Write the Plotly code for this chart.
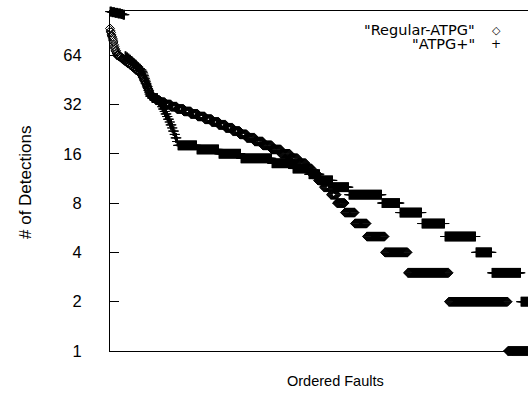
import numpy as np
import plotly.graph_objects as go

# Regular-ATPG: detection levels (descending) and number of faults at each level
reg_levels = [93, 90, 88, 85, 83, 81, 79, 77, 74, 72, 70, 68, 66,
              64, 63, 62, 61, 60, 59, 58, 57, 56, 55, 54, 53, 52, 51,
              50, 49, 48, 47, 46, 45, 44, 43, 42, 41, 40, 39, 38, 37,
              36, 35, 34, 33, 32, 31, 30, 29, 28, 27, 26, 25, 24, 23, 22, 21,
              20, 19, 18, 17, 16, 15, 14, 13, 12, 11, 10, 9, 8, 7, 6, 5, 4, 3, 2, 1]
reg_counts = [1, 1, 1, 1, 1, 1, 1, 1, 1, 1, 1, 2, 1,
              4, 3, 3, 3, 3, 3, 3, 4, 3, 3, 3, 3, 4, 4,
              2, 2, 1, 2, 1, 2, 1, 2, 1, 2, 1, 2, 1, 2,
              4, 6, 8, 10, 12, 12, 14, 14, 14, 14, 14, 14, 14, 14, 14, 14,
              16, 16, 18, 18, 18, 16, 16, 12, 12, 12, 14, 12, 16, 20, 24, 36, 46, 82, 118, 104]

# ATPG+: detection levels (descending) and number of faults at each level
plus_levels = [118, 117, 116, 115, 114, 113,
               63, 62, 61, 60, 59, 58, 57, 56, 55, 54, 53, 52, 51,
               50, 49, 48, 47, 46, 45, 44, 43, 42, 41, 40, 39, 38, 37,
               36, 35, 34,
               33, 32, 31, 30, 29, 28, 27, 26, 25, 24, 23, 22, 21, 20, 19,
               18, 17, 16, 15, 14, 13, 12, 11, 10, 9, 8, 7, 6, 5, 4, 3, 2]
plus_counts = [4, 6, 6, 6, 4, 4,
               3, 3, 3, 3, 3, 2, 3, 3, 2, 3, 3, 3, 2,
               1, 1, 1, 1, 1, 1, 1, 1, 1, 1, 1, 1, 1, 1,
               4, 12, 2,
               3, 3, 2, 3, 2, 3, 2, 3, 2, 3, 2, 3, 2, 3, 2,
               38, 44, 44, 62, 42, 32, 22, 26, 32, 66, 36, 44, 46, 62, 32, 58, 78]

y_ticks = [1, 2, 4, 8, 16, 32, 64]
y_tick_labels = ["1", "2", "4", "8", "16", "32", "64"]

reg_y = np.repeat(reg_levels, reg_counts)
plus_y = np.repeat(plus_levels, plus_counts)
reg_x = np.arange(len(reg_y))
plus_x = np.arange(len(plus_y))

FONT = "Liberation Sans, Arial, sans-serif"
L, T, B = 110, 11, 44
W, H = 528, 395
PW, PH = W - L, H - T - B


def px(x):
    return (x - L) / PW


def py(y):
    return (H - B - y) / PH


fig = go.Figure()
fig.add_trace(go.Scatter(
    x=reg_x, y=reg_y, mode="markers", name='"Regular-ATPG"',
    marker=dict(symbol="diamond-open", size=7, color="black",
                line=dict(width=1, color="black")),
    cliponaxis=False, showlegend=False))
fig.add_trace(go.Scatter(
    x=plus_x, y=plus_y, mode="markers", name='"ATPG+"',
    marker=dict(symbol="cross-thin", size=7, color="black",
                line=dict(width=1, color="black")),
    cliponaxis=False, showlegend=False))

fig.update_layout(
    width=W, height=H,
    margin=dict(l=L, r=0, t=T, b=B, pad=0),
    paper_bgcolor="white", plot_bgcolor="white",
    font=dict(family=FONT, size=16.5, color="black"),
)
fig.update_xaxes(range=[0, 836], showgrid=False, zeroline=False,
                 showticklabels=False, ticks="",
                 showline=True, linecolor="black", linewidth=1, mirror=True)
fig.update_yaxes(type="log", range=[0, np.log10(119)], showgrid=False,
                 zeroline=False, tickvals=y_ticks, ticktext=y_tick_labels,
                 ticks="inside", ticklen=9, tickcolor="black", tickwidth=1,
                 ticklabelstandoff=24, tickfont=dict(size=16.5),
                 showline=True, linecolor="black", linewidth=1, mirror=False)

LEG_FONT = "DejaVu Sans, Verdana, sans-serif"
ann = [
    dict(text="Ordered Faults", x=px(335), y=py(381), showarrow=False,
         xanchor="center", yanchor="middle", font=dict(size=14.5)),
    dict(text="# of Detections", x=px(25), y=py(183), showarrow=False,
         textangle=-90, xanchor="center", yanchor="middle", font=dict(size=17)),
    dict(text='"Regular-ATPG"', x=px(476), y=py(30), showarrow=False,
         xanchor="right", yanchor="middle", borderpad=0,
         font=dict(size=14.5, family=LEG_FONT)),
    dict(text='"ATPG+"', x=px(476), y=py(44), showarrow=False,
         xanchor="right", yanchor="middle", borderpad=0,
         font=dict(size=14.5, family=LEG_FONT)),
    dict(text="◇", x=px(496), y=py(30), showarrow=False,
         xanchor="center", yanchor="middle", borderpad=0,
         font=dict(size=11, family="DejaVu Sans")),
    dict(text="+", x=px(496), y=py(44), showarrow=False,
         xanchor="center", yanchor="middle", borderpad=0,
         font=dict(size=12, family="DejaVu Sans")),
]
for a in ann:
    a["xref"] = "paper"
    a["yref"] = "paper"
fig.update_layout(annotations=ann)

fig.write_html("out.html",
               config={"displayModeBar": False},
               post_script="document.body.style.margin='0';"
                           "document.body.style.overflow='hidden';")
